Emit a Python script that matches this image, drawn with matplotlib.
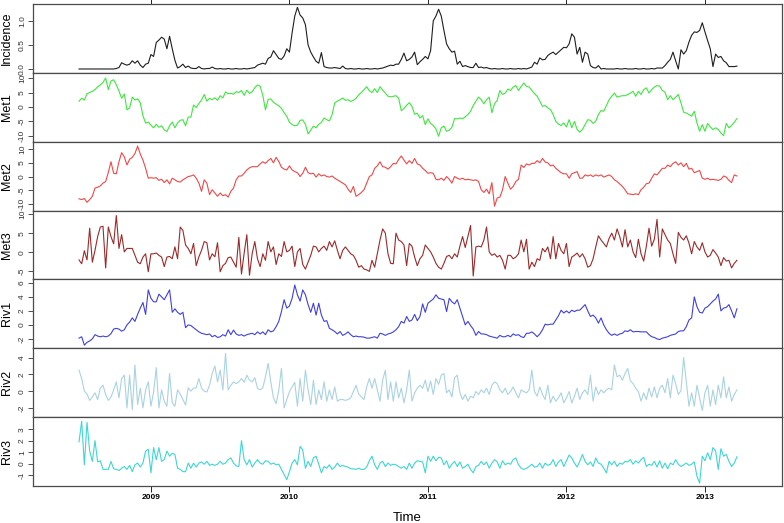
import numpy as np
import matplotlib.pyplot as plt

plt.rcParams["font.family"] = ["Liberation Sans", "DejaVu Sans"]

# weekly series, first week = week 25 of 2008
start_year = 2008 + 25 / 52

incidence = [
    0, 0, 0, 0, 0, 0, 0, 0, 0, 0,
    0, 0, 0, 0, 0.01, 0.03, 0.13, 0.1, 0.08, 0.1,
    0.17, 0.12, 0.17, 0.08, 0.03, 0.1, 0.12, 0.3, 0.26, 0.55,
    0.6, 0.66, 0.62, 0.42, 0.68, 0.42, 0.18, 0.02, 0.05, 0.1,
    0.03, 0.06, 0.02, 0.01, 0.01, 0.05, 0.01, 0.0, 0.01, 0.01,
    0.04, 0.01, 0.0, 0.01, 0.0, 0.0, 0.01, 0.0, 0.0, 0.01,
    0.0, 0.0, 0.01, 0.0, 0.01, 0.02, 0.03, 0.08, 0.1, 0.12,
    0.1, 0.22, 0.25, 0.38, 0.3, 0.22, 0.2, 0.27, 0.42, 0.35,
    0.75, 1.1, 1.28, 1.12, 1.06, 0.92, 0.5, 0.35, 0.25, 0.16,
    0.12, 0.34, 0.05, 0.03, 0.02, 0.02, 0.03, 0.02, 0.01, 0.06,
    0.01, 0.0, 0.01, 0.0, 0.0, 0.01, 0.0, 0.0, 0.01, 0.0,
    0.0, 0.01, 0.0, 0.01, 0.02, 0.04, 0.06, 0.08, 0.07, 0.1,
    0.1, 0.2, 0.33, 0.17, 0.2, 0.25, 0.35, 0.09, 0.15, 0.2,
    0.26, 0.21, 0.38, 1.0, 1.1, 1.24, 1.1, 0.8, 0.52, 0.42,
    0.35, 0.37, 0.1, 0.16, 0.05, 0.07, 0.05, 0.03, 0.03, 0.12,
    0.03, 0.04, 0.02, 0.03, 0.01, 0.0, 0.01, 0.0, 0.0, 0.01,
    0.0, 0.0, 0.01, 0.0, 0.0, 0.01, 0.0, 0.01, 0.0, 0.02,
    0.04, 0.14, 0.1, 0.23, 0.19, 0.2, 0.28, 0.32, 0.35, 0.3,
    0.35, 0.4, 0.45, 0.44, 0.52, 0.73, 0.66, 0.31, 0.45, 0.14,
    0.35, 0.31, 0.07, 0.03, 0.02, 0.07, 0.0, 0.01, 0.0, 0.0,
    0.0, 0.0, 0.01, 0.0, 0.0, 0.01, 0.0, 0.0, 0.0, 0.01,
    0.0, 0.0, 0.01, 0.0, 0.0, 0.01, 0.0, 0.02, 0.02, 0.02,
    0.07, 0.14, 0.2, 0.35, 0.17, 0.0, 0.4, 0.31, 0.38, 0.56,
    0.7, 0.77, 0.76, 0.8, 0.96, 0.77, 0.59, 0.42, 0.05, 0.31,
    0.24, 0.26, 0.17, 0.13, 0.05, 0.05, 0.05, 0.06,
]

met1 = [
    2.0, 3.0, 2.4, 4.6, 5.0, 5.4, 6.0, 7.0, 7.6, 8.5,
    10.0, 6.0, 9.0, 9.4, 7.7, 5.5, 3.0, 4.5, -1.0, -0.3,
    3.4, 2.4, 2.8, 1.4, -3.0, -5.6, -5.2, -6.3, -7.2, -6.0,
    -7.0, -6.5, -7.9, -8.5, -6.5, -5.2, -7.2, -5.5, -4.6, -4.4,
    -6.5, -3.5, -3.5, 0.7, -0.2, 1.2, 2.4, 4.3, 2.0, 3.0,
    2.5, 3.2, 2.3, 3.9, 3.1, 5.2, 4.6, 4.7, 4.4, 5.3,
    5.0, 5.7, 4.0, 5.8, 4.7, 5.2, 6.7, 7.6, 7.2, 4.0,
    -1.0, 2.6, 2.8, 1.6, 1.0, 0.4, -0.5, -2.0, -3.2, -5.3,
    -6.1, -6.5, -6.3, -4.6, -4.5, -6.0, -9.3, -8.0, -6.6, -7.2,
    -6.0, -5.3, -3.8, -4.4, -4.8, -2.7, 1.4, 2.0, 2.5, 3.1,
    2.3, 2.5, 1.9, 2.3, 3.0, 4.2, 5.0, 6.0, 7.0, 5.6,
    5.0, 6.3, 5.0, 7.0, 5.8, 4.8, 3.7, 3.5, 3.7, 3.9,
    3.0, -1.3, -0.5, 0.6, 1.5, 0.2, -2.5, -2.2,
    -3.8, -3.0, -6.1, -4.1, -5.7, -6.4, -7.6, -10.1, -7.2, -6.6,
    -8.4, -8.0, -7.0, -4.0, -4.1, -3.8, -4.1, -3.4, -2.6, -1.5,
    0.5, 2.0, 3.4, 2.5, 1.1, 2.5, 3.4, -2.0, 1.1, 2.3,
    5.7, 4.3, 4.8, 6.2, 5.7, 6.9, 7.4, 5.7, 7.1, 8.3,
    7.1, 6.9, 5.7, 4.6, 3.7, 2.0, 0.2, 0.5, -0.3, -0.9,
    -2.6, -5.0, -5.9, -6.4, -5.5, -6.9, -4.4, -7.2, -5.0, -7.8,
    -8.7, -7.8, -6.1, -4.4, -4.6, -5.7, -4.9, -2.6, -1.2, -1.5,
    0.5, 2.5, 3.7, 4.8, 3.4, 3.7, 3.9, 3.9, 4.3, 4.8,
    5.4, 3.7, 5.4, 4.3, 6.0, 6.6, 4.8, 6.0, 6.9, 7.4,
    7.2, 5.7, 5.1, 2.5, 3.9, 2.5, 3.4, 4.3, 1.4, -1.8,
    -2.1, -2.6, -3.2, -1.5, -5.5, -8.4, -6.1, -8.4, -5.7, -6.9,
    -7.8, -7.2, -7.8, -9.0, -9.9, -5.7, -7.2, -6.4, -5.3, -4.0,
]

met2 = [
    -8.1, -8.4, -8.0, -9.4, -8.4, -7.2, -4.2, -3.9, -3.4, -2.4,
    -1.8, 1.5, 5.4, 1.2, 1.0, 5.4, 8.7, 7.2, 4.2, 6.3,
    7.0, 8.4, 11.1, 8.2, 6.0, 3.0, -0.6, -0.4, -0.6, -0.4,
    -1.4, -1.0, -2.2, -1.2, -2.7, -0.6, -1.2, -1.8, -2.0, -1.2,
    -0.6, 0.0, 0.2, 0.6, -0.6, -2.4, -5.4, -1.2, -2.4, -6.6,
    -4.8, -6.0, -7.2, -6.0, -7.0, -6.6, -7.5, -5.4, -4.2, -1.2,
    0.2, 0.2, 1.2, 2.4, 3.2, 3.6, 3.6, 3.6, 4.6, 5.4,
    4.8, 5.8, 6.6, 5.0, 7.0, 5.5, 3.4, 2.7, 2.4, 3.9,
    2.4, 1.8, 1.4, 0.0, 1.2, 3.4, 1.4, 1.0, 1.2, -0.2,
    1.0, 0.2, 0.6, 0.0, -0.2, 0.2, -0.6, -1.2, -1.8, -2.4,
    -3.0, -4.6, -5.8, -3.6, -7.2, -6.6, -5.8, -4.8, -2.4, 0.0,
    0.6, 3.0, 3.9, 5.4, 3.6, 3.4, 2.7, 3.6, 4.8, 4.6,
    6.2, 7.5, 6.0, 4.6, 5.8, 4.8, 6.6, 4.6,
    4.2, 3.0, 2.2, 1.2, 1.4, 1.2, -1.0, -1.2, -0.6, -1.4,
    0.0, -1.0, -2.4, 0.0, -0.6, -1.0, -0.6, -1.2, -1.0, -1.2,
    -1.4, -1.2, -1.8, -4.8, -5.8, -4.6, -6.3, -2.2, -10.8, -7.8,
    -7.5, -4.8, 0.0, -2.4, -4.6, -3.6, -1.8, -1.0, 4.2, 3.3,
    4.6, 4.2, 4.8, 4.8, 5.8, 5.0, 6.6, 5.3, 5.0, 3.9,
    4.2, 3.0, 2.2, 1.4, 1.0, 1.0, -0.6, 1.0, 1.4, 1.8,
    -0.6, -0.6, 0.6, 0.2, 0.6, 0.0, 0.6, 0.2, 0.6, -0.2,
    0.2, 0.6, 0.0, -1.2, -1.8, -2.7, -3.6, -4.8, -6.3, -6.4,
    -6.6, -6.3, -6.6, -4.8, -3.9, -2.6, -2.4, -0.6, 1.0, 0.6,
    1.8, 3.0, 3.0, 4.2, 3.6, 4.8, 5.4, 4.2, 5.0, 3.6,
    4.8, 2.7, 3.0, 1.4, 1.8, 2.2, -0.6, -1.0, -0.6, -1.2,
    -1.0, -1.2, -1.4, -1.0, 0.2, -0.2, -1.4, -2.2, 0.6, 0.2,
]

met3 = [
    -2.0, -3.0, 0.4, -2.0, 6.3, -2.6, 0.5, 4.1, 6.6, 6.8,
    -4.1, 6.6, 4.1, 2.2, 9.6, 1.0, 4.6, 0.1, 1.0, 1.0,
    1.0, -0.8, -2.6, -3.0, -1.25, -0.4, -5.1, -0.4, -0.4, -0.2,
    -0.8, -1.25, -3.75, -1.25, -1.1, -1.7, 1.4, -1.7, 6.6, 5.7,
    1.9, 1.0, -0.4, 2.3, -3.5, -1.2, 0.5, 2.8, 2.5, -2.0,
    -0.4, -1.2, 2.5, -5.1, -3.5, -2.9, -1.4, -1.25, -2.6, -3.9,
    3.9, -5.7, -0.2, 4.6, -6.0, -0.4, 2.8, -1.7, -3.75, -0.4,
    -2.1, 2.8, 0.1, 1.4, -3.2, -0.4, -1.1, 2.8, 0.1, 0.5,
    1.6, -3.75, 0.1, 1.0, -3.2, -4.4, -2.6, -0.8, 1.6, 1.4,
    0.1, 1.0, 1.6, 0.5, 2.8, 1.4, 3.0, 0.5, -1.7, 0.5,
    1.4, 0.5, -0.4, -0.8, -2.1, -3.9, -3.5, -4.4, -4.6, -5.0,
    -2.1, -3.9, -0.4, 3.2, 6.1, 5.0, -0.4, -2.9, -3.0, 5.0,
    3.2, 2.8, 1.9, -3.5, 2.3, 1.6, -1.25, -3.5,
    -1.7, -0.8, 1.9, 1.0, 0.1, -1.25, -2.9, -3.9, -4.4, -2.9,
    -1.1, -0.8, -1.7, -0.4, -1.25, 1.6, 4.1, 1.25, 4.1, 7.0,
    -6.2, 1.4, 1.6, 1.4, 3.2, 6.6, 0.1, -0.8, -0.4, -1.25,
    -0.8, -2.1, -4.4, -0.8, -0.8, -1.7, -1.25, -0.4, 3.2, 0.1,
    3.4, -4.4, -2.6, -3.75, -1.7, -2.1, 1.0, 0.1, 1.4, -1.7,
    4.1, -1.7, 2.3, 0.5, -0.4, 2.3, -3.75, -1.25, -0.8, -0.2,
    -1.25, -0.4, -1.7, -3.9, -3.5, -1.7, 1.4, 4.3, 3.2, 2.3,
    1.4, 3.6, 5.0, 3.2, 6.1, 4.1, 1.4, 5.9, 1.4, 3.2,
    0.1, -1.4, 3.4, -0.4, -2.3, 1.6, 6.3, 1.6, 3.4, 8.6,
    -1.25, 6.1, 4.6, 3.2, 2.3, -0.4, -2.9, 5.2, 3.9, 3.2,
    4.3, 2.4, -0.4, 2.8, 1.4, 0.5, 2.5, 0.1, -1.25, -0.8,
    0.7, -0.2, -1.25, -3.5, -1.4, -2.3, -2.1, -4.1, -2.9, -2.1,
]

riv1 = [
    -1.9, -1.7, -2.9, -2.5, -2.3, -2.0, -1.4, -1.6, -1.7, -1.6,
    -1.7, -1.6, -1.25, -0.6, -0.5, -0.6, -0.9, -0.7, 0.0, 0.4,
    1.0, 0.5, 1.5, 2.4, 3.2, 1.5, 5.0, 3.8, 3.3, 3.3,
    4.4, 4.0, 3.6, 4.3, 5.0, 1.8, 2.3, 1.8, 1.5, 1.8,
    -0.4, 0.0, -0.1, -0.4, -0.7, -1.0, -1.2, -1.3, -1.4, -1.3,
    -1.7, -1.5, -1.8, -1.7, -1.4, -1.6, -0.7, -1.4, -0.75, -1.3,
    -1.5, -1.4, -1.6, -1.4, -1.3, -1.2, -1.4, -1.0, -1.3, -1.0,
    -1.4, -0.7, -1.0, -0.85, -0.25, 0.5, 1.9, 3.6, 2.4, 2.7,
    3.8, 5.7, 4.3, 3.4, 5.0, 4.3, 2.9, 1.8, 3.1, 1.4,
    3.1, 1.4, 0.5, 0.6, -0.5, -0.7, -0.95, -1.3, -0.95, -1.5,
    -1.3, -1.0, -1.4, -1.7, -1.6, -1.7, -1.7, -1.75, -1.9, -1.9,
    -1.8, -1.7, -1.9, -1.2, -1.3, -1.5, -1.3, -1.2, -1.0, -0.7,
    -0.25, 0.5, 0.25, 1.2, 0.5, 0.7, 1.5, 0.6,
    1.2, 3.0, 1.8, 3.1, 3.4, 3.7, 4.3, 3.8, 3.7, 3.6,
    1.9, 3.8, 3.3, 3.0, 3.6, 2.4, 1.2, 0.0, 0.5, -0.1,
    -0.6, -1.5, -0.95, -1.3, -1.3, -1.4, -1.6, -1.7, -1.8, -1.9,
    -1.5, -1.7, -1.7, -1.5, -1.7, -1.3, -1.5, -1.4, -1.7, -1.8,
    -1.2, -1.2, -1.0, -1.3, -1.7, -1.3, -0.7, 0.1, 0.0, 0.1,
    0.1, 0.7, 1.3, 2.1, 1.7, 2.0, 1.7, 2.1, 1.9, 2.1,
    2.1, 2.5, 2.9, 2.0, 1.2, 1.4, 1.0, 0.25, 1.0, 0.0,
    -0.7, -1.2, -1.5, -1.3, -1.5, -1.3, -1.2, -0.85, -0.95, -0.7,
    -1.0, -0.95, -0.95, -1.0, -1.0, -1.0, -1.4, -1.7, -1.8, -2.0,
    -2.1, -1.9, -1.8, -1.7, -1.5, -1.4, -1.3, -0.95, -0.85, -0.85,
    -0.25, 0.7, 1.0, 4.0, 2.6, 1.8, 1.7, 2.4, 2.6, 3.0,
    3.4, 3.7, 4.4, 2.0, 2.4, 2.5, 2.9, 2.0, 1.0, 2.3,
]

riv2 = [
    2.5, 1.5, 0.0, -0.35, -1.1, -0.7, -0.2, -1.0, 0.35, 0.7,
    -0.4, -1.1, -0.7, 0.15, 1.1, -0.8, 1.5, 1.9, -2.0, 1.9,
    -2.2, 3.1, -1.6, 0.35, -2.0, 0.15, 1.1, -1.8, -0.1, 2.8,
    -2.0, 0.15, -1.2, -1.8, 2.1, -1.4, -1.8, 0.15, -0.35, -1.0,
    -1.65, 0.4, 0.0, 0.35, 0.4, 1.5, 0.35, 0.0, -0.1, 0.7,
    2.1, 3.0, 1.1, 2.5, 0.15, 4.5, 0.15, 0.7, 1.1, 0.9,
    1.1, 1.5, 1.05, 1.9, 1.3, 1.1, 1.6, 0.35, 0.15, 0.4,
    1.7, 3.3, 1.1, -0.8, -1.5, 0.15, 2.7, -2.0, -1.0, -0.05,
    0.5, 1.05, -1.8, 1.5, -1.2, 2.5, 0.15, -1.6, 1.3, -1.6,
    0.15, -1.0, 1.1, -1.2, 0.15, -1.0, 0.5, -1.2, -1.0, -1.0,
    -1.1, -1.0, -0.8, -0.05, 0.7, -0.35, -0.7, -1.0, 0.5, 1.5,
    0.35, 1.5, 0.15, -1.2, 1.3, 2.5, -1.0, 1.1, -1.2, 1.1,
    -0.8, 0.35, -1.4, 0.15, 2.5, -1.2, -0.2, 0.35,
    0.7, 0.35, 1.3, -0.05, 1.2, -0.4, 1.5, 0.8, 1.9, 2.1,
    -0.2, 0.15, -0.7, 1.6, 1.9, -0.2, -1.0, -0.4, -1.2, -0.6,
    -0.8, -0.05, -0.4, 0.15, -0.2, 0.35, -0.4, 0.7, 1.1, 0.9,
    0.15, -0.2, 0.35, -0.4, -0.05, 0.5, -0.2, -0.8, 0.15, -0.05,
    -0.2, 0.15, 2.5, -0.05, -0.6, 0.5, -0.4, -1.0, 0.7, -1.4,
    -0.6, -1.2, -0.8, -0.2, -1.4, -0.8, -0.05, -1.4, -0.6, 0.35,
    -1.0, -0.2, 0.15, -0.4, 1.9, -1.2, 0.5, -0.4, 0.15, -0.2,
    0.15, 0.35, 0.15, 3.1, 1.7, 1.9, 1.3, 2.1, 2.7, 1.2,
    0.9, 0.35, -0.05, -1.2, -0.2, -1.0, 0.35, -0.7, 0.5, -0.8,
    0.35, 0.7, -0.2, 1.5, -0.8, 1.9, 0.9, -0.4, 0.05, 4.0,
    1.1, -1.8, -0.2, -1.8, 0.7, -0.8, -2.3, -0.2, 0.7, -1.8,
    0.15, -1.6, 0.7, -0.8, 1.7, -0.8, 0.5, -1.2, -0.4, 0.15,
]

riv3 = [
    1.9, 3.7, -0.1, 3.6, 1.1, 0.2, 2.0, 0.15, 0.25, -0.5,
    -0.5, -0.5, 0.2, -0.45, -0.5, -0.6, -0.4, -0.25, -0.5, -0.15,
    -0.7, -0.1, 0.05, -0.3, 0.05, 1.1, 1.25, -0.8, 1.4, 0.35,
    1.4, 0.2, 0.35, 1.1, 0.65, 0.9, 0.8, -0.4, -0.5, -0.7,
    -0.7, 0.05, -0.4, 0.05, -0.3, 0.05, 0.15, -0.05, 0.2, -0.15,
    -0.05, -0.15, -0.05, 0.2, -0.05, 0.05, 0.35, 0.5, 0.05, -0.2,
    -0.25, 2.0, 0.35, -0.1, 0.35, -0.3, 0.05, 0.35, 0.05, -0.05,
    0.25, 0.2, -0.05, 0.05, -0.1, -0.05, -0.5, -0.95, -1.4, -0.7,
    0.05, 0.35, -0.1, 1.5, 1.2, -0.4, 0.2, -0.25, 0.5, 0.65,
    -0.05, -0.8, -0.25, -0.4, -0.1, -0.5, -0.3, 0.05, -0.25, -0.15,
    -0.25, -0.3, -0.45, -0.45, -0.5, -0.4, -0.5, -0.5, -0.3, 0.25,
    0.65, -0.1, -0.5, 0.05, 0.2, -0.25, 0.05, -0.15, -0.05, -0.1,
    -0.25, -0.4, -0.25, -0.5, 0.05, -0.4, 0.05, 0.25,
    0.2, 0.15, -0.8, 0.65, 0.2, 0.65, 0.25, 0.55, 0.5, -0.1,
    0.25, -0.4, -0.05, 0.2, -0.25, 0.15, -0.4, -0.25, -0.05, -0.5,
    -0.8, -0.25, -0.15, 0.2, -0.1, 0.15, -0.4, 0.05, 0.35, 0.15,
    -0.4, 0.25, -0.1, 0.05, -0.05, 0.35, 0.5, -0.1, -0.4, -0.5,
    -0.4, -0.25, -0.05, -0.3, -0.25, 0.05, -0.4, 0.05, -0.15, -0.05,
    0.35, -0.25, 0.15, 0.35, -0.25, 0.25, 0.75, 0.5, 0.05, -0.3,
    0.2, 0.8, 0.2, -0.1, 0.15, -0.25, 0.5, 0.05, -0.05, -0.4,
    -0.8, 0.2, -0.1, 0.2, -0.25, 0.05, -0.05, 0.2, 0.15, 0.35,
    -0.05, 0.25, 0.05, 0.35, 0.55, -0.25, -0.05, -0.15, 0.2, -0.3,
    0.25, -0.4, 0.05, -0.45, 0.05, -0.1, 0.35, -0.05, -0.25, -0.1,
    0.05, -0.15, -0.05, 0.15, -1.1, -1.7, 0.65, 0.25, 0.95, 0.35,
    1.4, 1.1, -0.5, 1.3, 0.65, 0.8, 0.2, -0.25, 0.05, 0.6,
]

series_names = ["Incidence", "Met1", "Met2", "Met3", "Riv1", "Riv2", "Riv3"]
series_values = [incidence, met1, met2, met3, riv1, riv2, riv3]
series_colors = ["#1e1e1e", "#3ee83e", "#f04848", "#9c2a2a", "#4040e0", "#a9d3e2", "#3ed6d6"]
y_limits = [(-0.08, 1.35), (-12.0, 11.8), (-12.4, 12.7), (-7.1, 10.9),
            (-3.35, 6.5), (-3.1, 5.1), (-1.95, 4.05)]
y_ticks = [[0, 0.5, 1.0], [-10, -5, 0, 5, 10], [-10, -5, 0, 5, 10], [-5, 0, 5, 10],
           [-2, 0, 2, 4, 6], [-2, 0, 2, 4], [-1, 0, 1, 2, 3]]
y_ticklabels = [["0.0", "0.5", "1.0"], ["-10", "-5", "0", "5", "10"], ["-10", "-5", "0", "5", "10"],
                ["-5", "0", "5", "10"], ["-2", "0", "2", "4", "6"], ["-2", "0", "2", "4"],
                ["-1", "0", "1", "2", "3"]]
x_ticks = [2009, 2010, 2011, 2012, 2013]

fig, axes = plt.subplots(7, 1, figsize=(7.84, 5.23), dpi=100, sharex=True)
fig.subplots_adjust(left=0.042, right=0.9974, top=0.9924, bottom=0.0707, hspace=0)

for k, ax in enumerate(axes):
    vals = series_values[k]
    t = start_year + np.arange(len(vals)) / 52
    ax.plot(t, vals, color=series_colors[k], lw=0.8)
    ax.set_xlim(2008.148, 2013.556)
    ax.set_ylim(*y_limits[k])
    ax.set_yticks(y_ticks[k])
    ax.set_yticklabels(y_ticklabels[k], rotation=90, va="center", fontsize=6)
    ax.tick_params(axis="y", length=3.5, width=0.6, pad=1.5, colors="#333333")
    ax.set_ylabel(series_names[k], fontsize=9)
    ax.yaxis.set_label_coords(-0.0265, 0.5)
    for s in ax.spines.values():
        s.set_color("#4a4a4a")
        s.set_linewidth(0.9)
    ax.set_xticks(x_ticks)
    ax.tick_params(axis="x", bottom=False, labelbottom=False)

axes[0].tick_params(axis="x", top=True, labeltop=False, length=4, width=0.6, direction="out")
axes[-1].tick_params(axis="x", bottom=True, labelbottom=True, length=4, width=0.6, labelsize=6, pad=2)
for lab in axes[-1].get_xticklabels():
    lab.set_fontweight("bold")
axes[-1].set_xlabel("Time", fontsize=9.5, labelpad=8)

fig.savefig("out.png", dpi=100)
